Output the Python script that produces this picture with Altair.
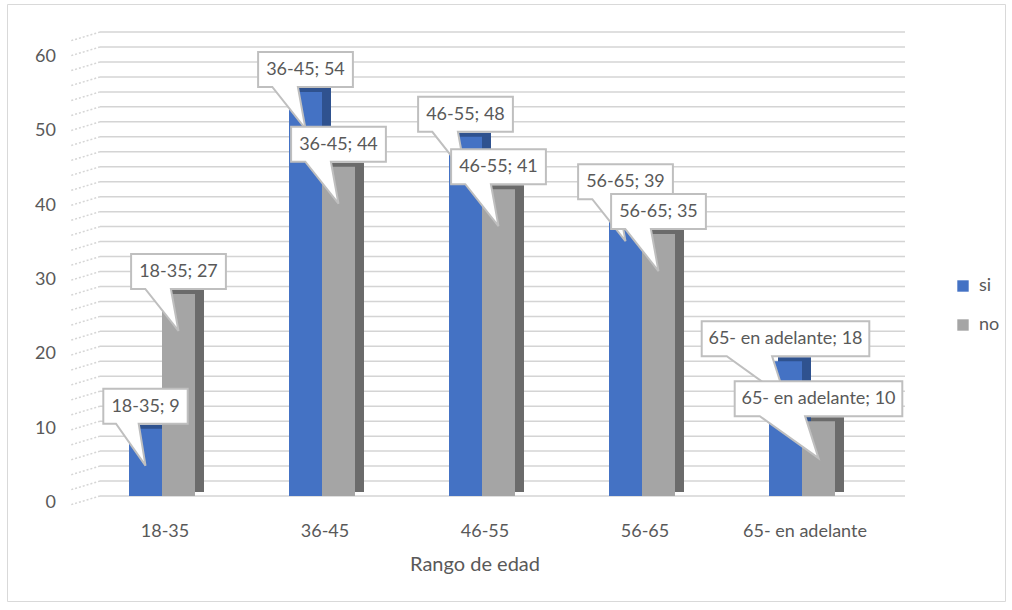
import altair as alt
import pandas as pd

# ---- data ----
categories = ["18-35", "36-45", "46-55", "56-65", "65- en adelante"]
series_names = ["si", "no"]
si_values = [9, 54, 48, 39, 18]
no_values = [27, 44, 41, 35, 10]
y_ticks = [0, 10, 20, 30, 40, 50, 60]
grid_values = [0, 2, 4, 6, 8, 10, 12, 14, 16, 18, 20, 22, 24, 26, 28, 30,
               32, 34, 36, 38, 40, 42, 44, 46, 48, 50, 52, 54, 56, 58, 60, 62]
x_title = "Rango de edad"

# ---- styling ----
FONT = "Lato"
TEXT = "#595959"
BLUE, GREY = "#4472C4", "#A5A5A5"
BLUE_SIDE, GREY_SIDE = "#2F528F", "#6B6B6B"
LABEL_SIZE = 18
DEPTH_X = 9  # horizontal depth of the column side faces

# approximate advance widths (em) used to size the callout boxes
EM = {**{d: 0.58 for d in "0123456789"}, "-": 0.35, ";": 0.24, " ": 0.2,
      "e": 0.52, "n": 0.55, "a": 0.5, "d": 0.56, "l": 0.24, "t": 0.34}


def text_width(s, size=LABEL_SIZE):
    return sum(EM.get(ch, 0.55) for ch in s) * size


def callout_path(w):
    """Box above the anchor with a pointer reaching down onto the bar."""
    half = w / 2
    left = -half
    return (f"M{left:.1f},-40 H{half:.1f} V-5 H{left + 0.42 * w:.1f} "
            f"L0,37 L{left + 0.15 * w:.1f},-5 H{left:.1f} Z")


rows = []
for s, vals in (("si", si_values), ("no", no_values)):
    for c, v in zip(categories, vals):
        label = f"{c}; {v}"
        rows.append({"category": c, "series": s, "value": v, "label": label,
                     "path": callout_path(text_width(label) + 18)})
bars_df = pd.DataFrame(rows)
grid_df = pd.DataFrame({"g": grid_values})
ticks_df = pd.DataFrame({"t": y_ticks})
cat_df = pd.DataFrame({"category": categories})
title_df = pd.DataFrame({"title": [x_title]})

# ---- scales ----
X_RANGE = [75, 875]
P_INNER = 0.5875
x_scale = alt.Scale(domain=categories, range=X_RANGE,
                    paddingInner=P_INNER, paddingOuter=P_INNER / 2)
band_w = (X_RANGE[1] - X_RANGE[0]) / len(categories) * (1 - P_INNER)
y_scale = alt.Scale(domain=[0, 60], range=[492, 43], nice=False)
label_scale = alt.Scale(domain=[0, 60], range=[499, 53], nice=False)
off_scale = alt.Scale(domain=series_names)
side_off_scale = alt.Scale(domain=series_names,
                           range=[DEPTH_X, band_w + DEPTH_X])

X = alt.X("category:N", scale=x_scale, sort=categories, axis=None)
XO = alt.XOffset("series:N", scale=off_scale, sort=series_names)
Y = alt.Y("value:Q", scale=y_scale, axis=None)

# back-wall gridlines and the slanted side-wall lines
grid = alt.Chart(grid_df).mark_rule(color="#d4d4d4", strokeWidth=1.5).encode(
    x=alt.value(93), x2=alt.value(898),
    y=alt.Y("g:Q", scale=y_scale, axis=None),
)
wall = alt.Chart(grid_df).mark_rule(
    color="#d6d6d6", strokeWidth=1.5, strokeDash=[2, 2], y2Offset=9
).encode(
    x=alt.value(93), x2=alt.value(63),
    y=alt.Y("g:Q", scale=y_scale, axis=None), y2=alt.Y2("g"),
)

# depth faces of the columns, shifted right and up behind each column
sides = alt.Chart(bars_df).mark_bar(yOffset=-4, y2Offset=-4).encode(
    x=X,
    xOffset=alt.XOffset("series:N", scale=side_off_scale, sort=series_names),
    y=Y,
    color=alt.Color("series:N", scale=alt.Scale(domain=series_names,
                                                range=[BLUE_SIDE, GREY_SIDE]),
                    legend=None),
)

bars = alt.Chart(bars_df).mark_bar().encode(
    x=X, xOffset=XO, y=Y,
    color=alt.Color(
        "series:N",
        scale=alt.Scale(domain=series_names, range=[BLUE, GREY]),
        legend=alt.Legend(title=None, orient="none", legendX=947, legendY=273,
                          symbolType="square", symbolSize=130,
                          symbolStrokeWidth=0, labelFontSize=LABEL_SIZE,
                          labelColor=TEXT, labelFont=FONT, rowPadding=21,
                          labelOffset=7, padding=0),
    ),
)

callouts = alt.Chart(bars_df).mark_point(
    filled=True, fill="white", stroke="#bfbfbf", strokeWidth=2,
    opacity=1, fillOpacity=1, strokeOpacity=1, size=4,
).encode(
    x=X, xOffset=XO, y=Y,
    shape=alt.Shape("path:N", scale=None),
)

callout_text = alt.Chart(bars_df).mark_text(
    font=FONT, fontSize=LABEL_SIZE, color=TEXT, dy=-22, baseline="middle"
).encode(x=X, xOffset=XO, y=Y, text="label:N")

cat_labels = alt.Chart(cat_df).mark_text(
    font=FONT, fontSize=LABEL_SIZE, color=TEXT, dx=3, baseline="middle"
).encode(x=X, y=alt.value(528), text="category:N")

y_labels = alt.Chart(ticks_df).mark_text(
    font=FONT, fontSize=LABEL_SIZE, color=TEXT, align="right",
    baseline="middle"
).encode(
    x=alt.value(49),
    y=alt.Y("t:Q", scale=label_scale, axis=None),
    text="t:Q",
)

title = alt.Chart(title_df).mark_text(
    font=FONT, fontSize=20, color=TEXT, baseline="middle"
).encode(x=alt.value(468), y=alt.value(561), text="title:N")

chart = alt.layer(
    grid, wall, sides, bars, callouts, callout_text, cat_labels, y_labels, title
).resolve_scale(
    color="independent", y="independent", xOffset="independent"
).properties(
    width=998, height=597,
    autosize=alt.AutoSizeParams(type="none"),
    padding={"left": 7, "top": 4, "right": 7, "bottom": 9},
).configure_view(
    stroke="#d9d9d9", strokeWidth=1
)

chart.save("out.html", embed_options={"renderer": "svg", "actions": False})
